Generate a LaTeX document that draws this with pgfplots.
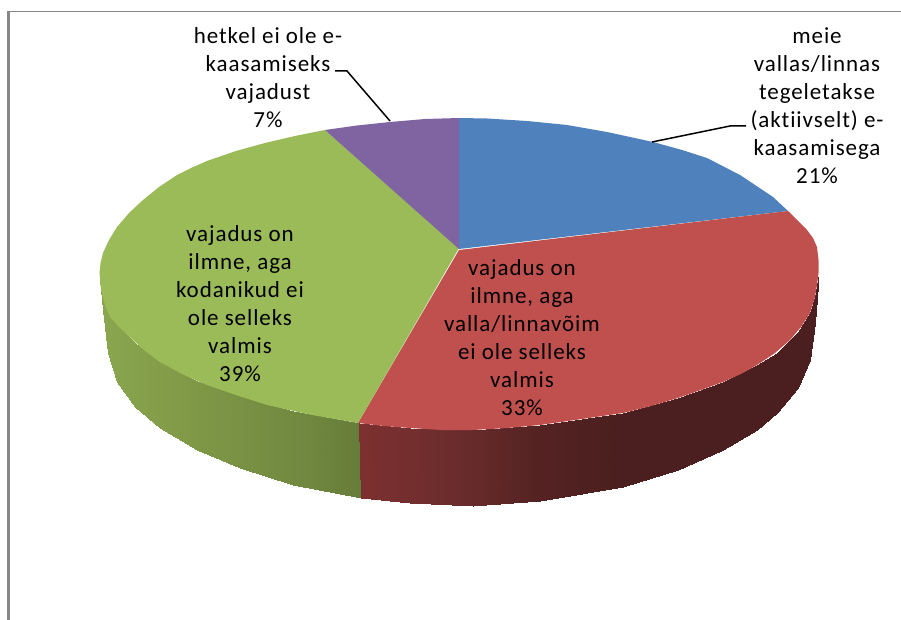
\documentclass[border=0pt]{standalone}
\usepackage{fontspec}
\setmainfont[LetterSpace=4,Ligatures=CommonOff]{Carlito}
\usepackage{pgfplots}
\pgfplotsset{compat=1.18}
\definecolor{pieblue}{HTML}{4F81BD}
\definecolor{piered}{HTML}{C0504D}
\definecolor{piegreen}{HTML}{9BBB59}
\definecolor{piepurple}{HTML}{8064A2}
\definecolor{framegray}{HTML}{868686}
\pgfplotsset{
  colormap={sidegreen}{rgb255(0cm)=(138,166,78); rgb255(4cm)=(127,152,71); rgb255(8cm)=(112,136,63); rgb255(10cm)=(102,124,57)},
  colormap={sidered}{rgb255(0cm)=(125,48,48); rgb255(3cm)=(106,44,44); rgb255(6cm)=(84,34,34); rgb255(10cm)=(75,31,31)},
}
\begin{document}
\begin{tikzpicture}
\begin{axis}[
  width=901pt, height=620pt, scale only axis,
  xmin=0, xmax=901, ymin=0, ymax=620, y dir=reverse,
  axis lines=none,
  point meta min=0, point meta max=1,
]
% keeps the whole page in the bounding box
\addplot[fill=white, draw=none] coordinates {(0,0)(901,0)(901,620)(0,620)} -- cycle;
% side of the pie, green part
\addplot[patch, patch type=rectangle, shader=interp, colormap name=sidegreen, point meta=\thisrow{m}] table {
x y m
100 280 0.00
103 295 0.00
103 310 0.00
100 280 0.00
103 295 0.00
110 317 0.03
108 353 0.03
103 310 0.00
110 317 0.03
120 328 0.07
117 382 0.07
108 353 0.03
120 328 0.07
135 343 0.15
135 407 0.15
117 382 0.07
135 343 0.15
160 362 0.25
160 428 0.25
135 407 0.15
160 362 0.25
197 381 0.40
197 450 0.40
160 428 0.25
197 381 0.40
240 396 0.57
240 468 0.57
197 450 0.40
240 396 0.57
293 411 0.75
293 485 0.75
240 468 0.57
293 411 0.75
358.5 423 1.00
361 498 1.00
293 485 0.75
};
% side of the pie, red part
\addplot[patch, patch type=rectangle, shader=interp, colormap name=sidered, point meta=\thisrow{m}] table {
x y m
358.5 423 0.00
410 428 0.15
410 503 0.15
361 498 0.00
410 428 0.15
473 430 0.35
473 506 0.35
410 503 0.15
473 430 0.35
540 425 0.60
540 501 0.60
473 506 0.35
540 425 0.60
623 413 1.00
623 487 1.00
540 501 0.60
623 413 1.00
678 398 1.00
678 470 1.00
623 487 1.00
678 398 1.00
723 382 1.00
723 450 1.00
678 470 1.00
723 382 1.00
757 365 1.00
757 430 1.00
723 450 1.00
757 365 1.00
777 353 1.00
777 413 1.00
757 430 1.00
777 353 1.00
798 332 1.00
798 388 1.00
777 413 1.00
798 332 1.00
810 313 1.00
810 360 1.00
798 388 1.00
810 313 1.00
815 297 1.00
815 323 1.00
810 360 1.00
815 297 1.00
818.5 273 1.00
817 293 1.00
815 323 1.00
};
% top of the pie
\addplot[fill=pieblue, draw=none] coordinates {(459,249)(459,118)(487,118.5)(527,121)(567,125)(607,132)(653,142)(682,150)(707,158)(740,175)(773,197)(788,211)} -- cycle;
\addplot[fill=piered, draw=none] coordinates {(459,250)(788,211)(799,222)(807,230)(813,238)(817,247)(818.5,260)(818.5,273)(817,285)(815,297)(810,313)(801,327)(790,340)(775,353)(757,365)(741,374)(723,382)(701,390)(678,398)(651,406)(623,413)(582,419)(540,425)(507,428)(473,430)(441,430)(410,428)(384,426)(358,423)} -- cycle;
\addplot[fill=piegreen, draw=none] coordinates {(459,248)(358,423)(312,415)(267,405)(236,395)(207,385)(182,374)(160,362)(145,351)(133,340)(120,328)(110,317)(105,305)(101,290)(99.5,273)(100.5,263)(103,253)(109,240)(117,227)(129,213)(143,200)(159,187)(177,175)(191,168)(207,161)(236,151)(265,143)(295,136)(325,130)} -- cycle;
\addplot[fill=piepurple, draw=none] coordinates {(459,249)(325,130)(357,125.5)(390,122)(425,119)(459,118)} -- cycle;
% leader lines
\addplot[black, line width=1.5pt] coordinates {(335,71)(347,71)(390,121)};
\addplot[black, line width=1.5pt] coordinates {(652,142)(730,126)(746,126)};
% frame of the chart area
\addplot[framegray, line width=2.6pt] coordinates {(8.6,11)(8.6,620)};
\addplot[framegray, line width=1.2pt] coordinates {(7.5,11.5)(901,11.5)};
% labels
\tikzset{lbl/.style={align=center, inner sep=0pt, font=\fontsize{23}{28}\selectfont, text=black}}
\node[lbl] at (axis cs:268,77.5) {hetkel ei ole e-\\kaasamiseks\\vajadust\\7\%};
\node[lbl] at (axis cs:817,106) {meie\\vallas/linnas\\tegeletakse\\(aktiivselt) e-\\kaasamisega\\21\%};
\node[lbl] at (axis cs:240,304) {vajadus on\\ilmne, aga\\kodanikud ei\\ole selleks\\valmis\\39\%};
\node[lbl] at (axis cs:522,338) {vajadus on\\ilmne, aga\\valla/linnavõim\\ei ole selleks\\valmis\\33\%};
\end{axis}
\end{tikzpicture}
\end{document}
